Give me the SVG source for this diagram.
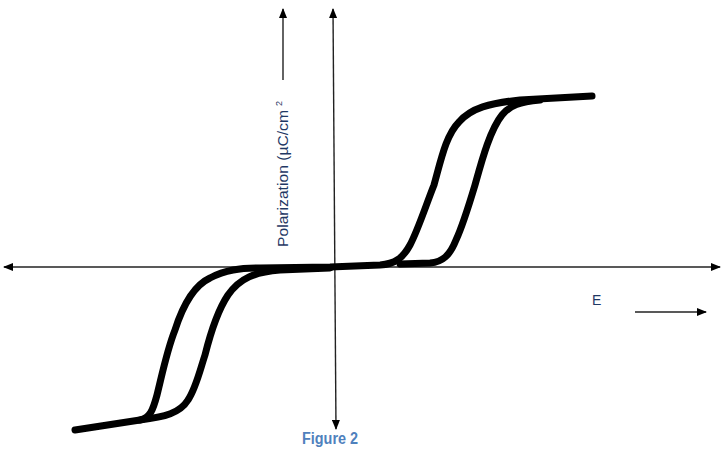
<svg xmlns="http://www.w3.org/2000/svg" width="724" height="458" viewBox="0 0 724 458">
<defs>
<marker id="ah" markerWidth="10" markerHeight="8" refX="9" refY="4" orient="auto" markerUnits="userSpaceOnUse">
<path d="M0,0 L10,4 L0,8 Z" fill="#000"/>
</marker>
<style>
.axis{stroke:#222;stroke-width:1.4;fill:none;marker-end:url(#ah)}
.curve{stroke:#000;stroke-width:7;fill:none;stroke-linecap:round;stroke-linejoin:round}
.lbl{font-family:"Liberation Sans",Arial,sans-serif;fill:#1F3864}
.fig{font-family:"Liberation Sans",Arial,sans-serif;font-weight:bold;fill:#4F81BD;font-size:16px}
</style>
</defs>
<rect width="724" height="458" fill="#fff"/>
<g id="connectors">
<line class="axis" x1="360" y1="267" x2="720" y2="267"/>
<line class="axis" x1="360" y1="267" x2="4" y2="267"/>
<line class="axis" x1="334.5" y1="220" x2="333" y2="9"/>
<line class="axis" x1="334.5" y1="220" x2="336" y2="429"/>
<line class="axis" x1="283" y1="80" x2="283" y2="9"/>
<line class="axis" x1="635" y1="312" x2="706" y2="312"/>
</g>
<g id="curve">
<path class="curve" d="M75,430 L140,420 C150,418 153,410 157,395 C162,375 167,350 175,330 C183,305 195,285 210,278 C225,270 240,268 260,268 L330,267 L380,265 C395,264 403,258 410,245 C418,230 426,205 434,185 C441,160 446,135 459,122 C471,108 490,103 520,100 L592,96"/>
<path class="curve" d="M140,420 C165,417 180,413 188,400 C196,388 200,370 205,355 C210,335 218,310 228,295 C240,278 255,272 280,270 L330,268"/>
<path class="curve" d="M400,264 L430,263 C443,262 450,255 456,240 C463,225 469,205 475,185 C482,160 490,130 502,115 C510,105 520,102 540,100"/>
</g>
<g id="ylabel">
<text class="lbl" font-size="14" transform="translate(288,247) rotate(-90)" textLength="137" lengthAdjust="spacingAndGlyphs">Polarization (µC/cm</text>
<text class="lbl" font-size="9" transform="translate(282,106) rotate(-90)">2</text>
</g>
<g id="xlabel">
<text class="lbl" font-size="14" x="592" y="305">E</text>
</g>
<g id="caption">
<text class="fig" x="302" y="444" textLength="56" lengthAdjust="spacingAndGlyphs">Figure 2</text>
</g>
</svg>
